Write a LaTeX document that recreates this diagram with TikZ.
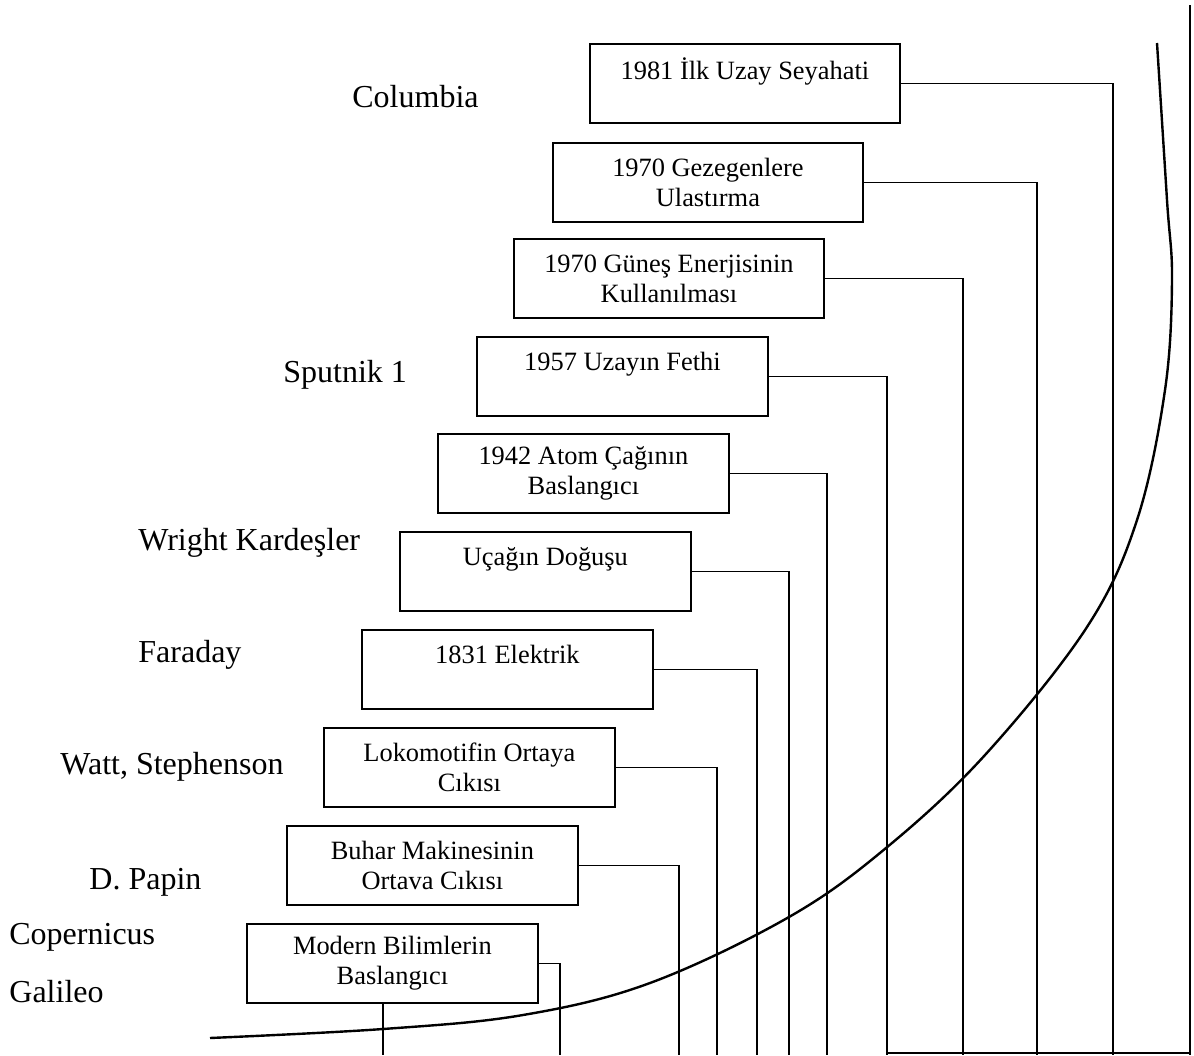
\documentclass[tikz,border=0pt]{standalone}
\usepackage{fontspec}
\setmainfont{Liberation Serif}

\begin{document}
\begin{tikzpicture}[x=0.5pt,y=-0.5pt,
	kutu/.style = {draw,line width=0.9pt,anchor=north west,inner sep=0pt,
		minimum width=145.5pt,minimum height=39.5pt,align=center,
		font=\fontsize{13.2}{15}\selectfont},
	genis/.style = {kutu,minimum width=155pt},
	isim/.style = {anchor=west,inner sep=0pt,font=\fontsize{16}{19}\selectfont},
	hat/.style = {line width=0.9pt}]
	\useasboundingbox (0,0) rectangle (1194,1055);

	\node[genis] (A) at (589,43) {1981 İlk Uzay Seyahati\\\mbox{}};
	\node[genis] (B) at (552,142) {1970 Gezegenlere\\Ulastırma};
	\node[genis] (C) at (513,238) {1970 Güneş Enerjisinin\\Kullanılması};
	\node[kutu] (D) at (476,336) {1957 Uzayın Fethi\\\mbox{}};
	\node[kutu] (E) at (437,433) {1942 Atom Çağının\\Baslangıcı};
	\node[kutu] (F) at (399,531) {Uçağın Doğuşu\\\mbox{}};
	\node[kutu] (G) at (361,629) {1831 Elektrik\\\mbox{}};
	\node[kutu] (H) at (323,727) {Lokomotifin Ortaya\\Cıkısı};
	\node[kutu] (I) at (286,825) {Buhar Makinesinin\\Ortava Cıkısı};
	\node[kutu] (J) at (246,923) {Modern Bilimlerin\\Baslangıcı};

	\node[isim] (L1) at (352,97) {Columbia};
	\node[isim] (L2) at (283,375) {Sputnik 1};
	\node[isim] (L3) at (138,543) {Wright Kardeşler};
	\node[isim] (L4) at (138,655) {Faraday};
	\node[isim] (L5) at (60,767) {Watt, Stephenson};
	\node[isim] (L6) at (89,882) {D. Papin};
	\node[isim] (L7) at (9,937) {Copernicus};
	\node[isim] (L8) at (9,992) {Galileo};

	% alt uclar
	\coordinate (a) at (1113,1055);
	\coordinate (b) at (1037,1055);
	\coordinate (c) at (963,1055);
	\coordinate (d) at (887,1055);
	\coordinate (e) at (827,1055);
	\coordinate (f) at (789,1055);
	\coordinate (g) at (757,1055);
	\coordinate (h) at (717,1055);
	\coordinate (i) at (679,1055);
	\coordinate (j) at (560,1055);
	\coordinate (k) at (383,1055);

	\draw[hat] (A.east) -| (a);
	\draw[hat] (B.east) -| (b);
	\draw[hat] (C.east) -| (c);
	\draw[hat] (D.east) -| (d);
	\draw[hat] (E.east) -| (e);
	\draw[hat] (F.east) -| (f);
	\draw[hat] (G.east) -| (g);
	\draw[hat] (H.east) -| (h);
	\draw[hat] (I.east) -| (i);
	\draw[hat] (J.east) -| (j);
	\draw[hat] (J.south -| k) -- (k);

	\draw[hat] (1190,5) -- (1190,1055);
	\draw[hat] (887,1053) -- (1190,1053);

	% buyume egrisi
	\draw[line width=1.2pt] plot[smooth,tension=0.6] coordinates {(210,1038) (383,1029)
		(523,1015) (650,983) (789,917) (886,848) (985,755) (1087,627) (1137,520)
		(1165,390) (1172,280) (1167,200) (1157,43)};
\end{tikzpicture}
\end{document}
